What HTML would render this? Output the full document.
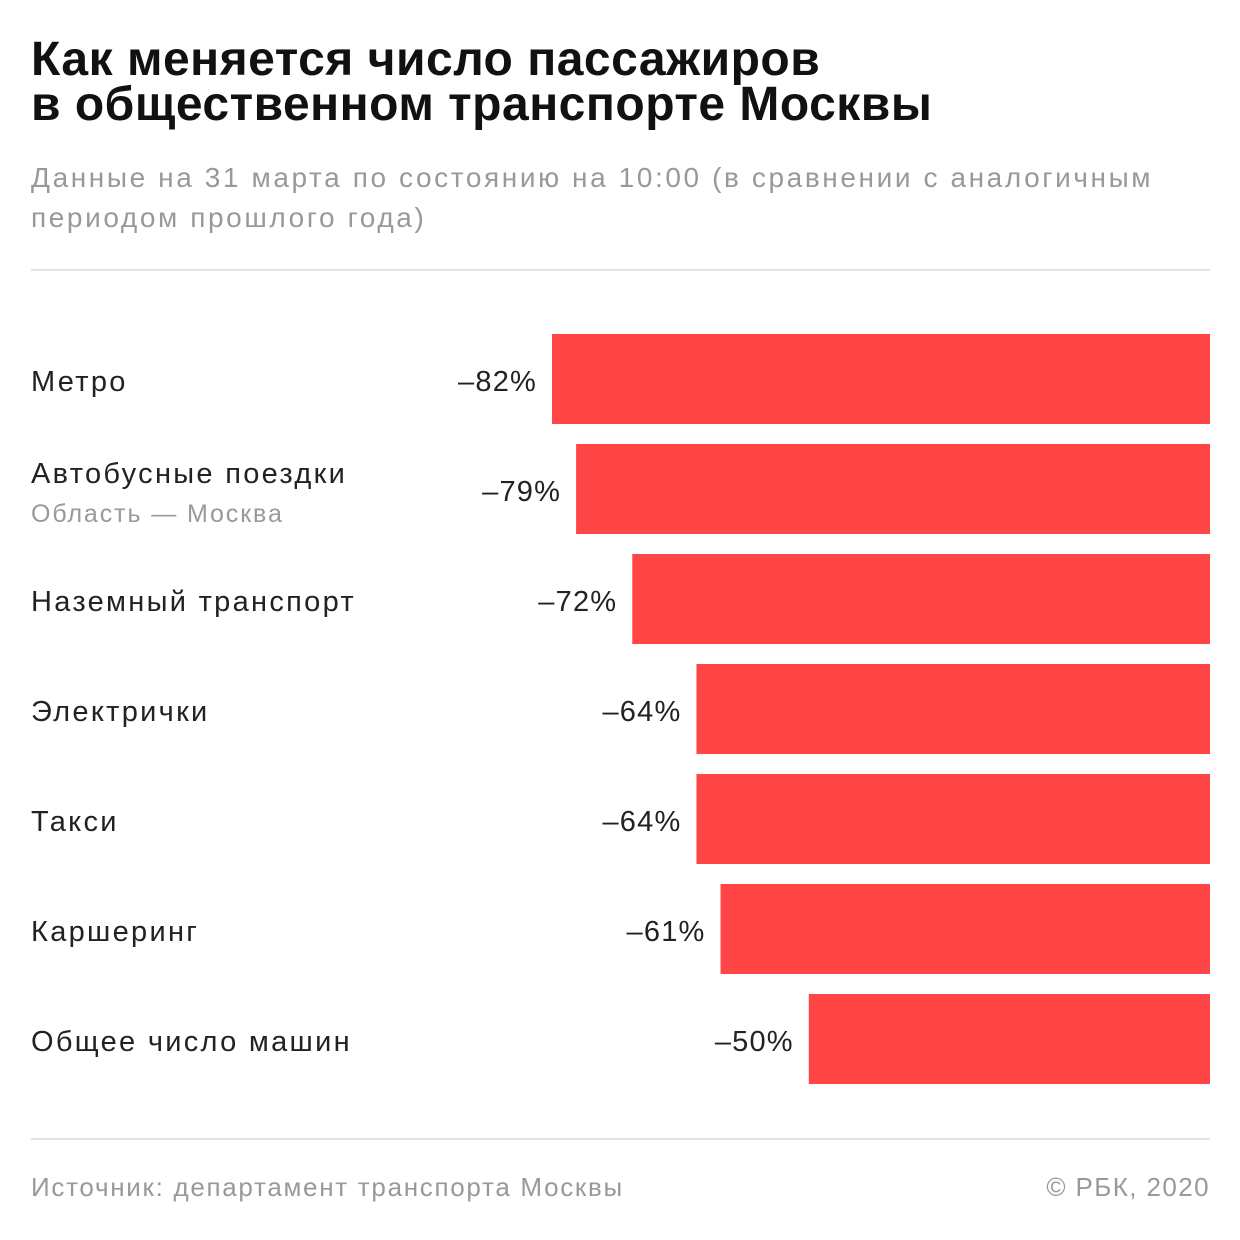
<!DOCTYPE html>
<html><head><meta charset="utf-8">
<style>
body{margin:0;background:#fff;width:1240px;height:1240px;overflow:hidden;font-family:"Liberation Sans","Noto Sans CJK SC",sans-serif;position:relative}
.t{position:absolute;left:31px;font-weight:bold;font-size:48px;color:#111;line-height:45px;top:37px;letter-spacing:0.5px}
.s{position:absolute;left:31px;top:158px;font-size:28px;line-height:40px;color:#999;letter-spacing:2.6px}
.hr{position:absolute;left:31px;width:1179px;height:2px;background:#e3e3e3}
.f{position:absolute;top:1172px;font-size:26px;color:#999;letter-spacing:1.7px}
</style></head><body>
<div class="t">Как меняется число пассажиров<br>в общественном транспорте Москвы</div>
<div class="s">Данные на 31 марта по состоянию на 10:00 (в сравнении с аналогичным<br>периодом прошлого года)</div>
<div class="hr" style="top:269px"></div>
<svg id="ch" width="1240" height="1240" style="position:absolute;left:0;top:0"></svg>
<div class="hr" style="top:1138px"></div>
<div class="f" style="left:31px">Источник: департамент транспорта Москвы</div>
<div class="f" style="right:30px;letter-spacing:1.4px">© РБК, 2020</div>
<script>
const categories=["Метро","Автобусные поездки","Наземный транспорт","Электрички","Такси","Каршеринг","Общее число машин"];
const subLabels=["","Область — Москва","","","","",""];
const values=[-82,-79,-72,-64,-64,-61,-50];
const ns="http://www.w3.org/2000/svg";
const svg=document.getElementById('ch');
const right=1210, scale=8.024, top0=334, step=110, bh=90;
const x=v=>right-Math.abs(v)*scale;
const y=i=>top0+i*step;
categories.forEach((c,i)=>{
  const r=document.createElementNS(ns,'rect');
  r.setAttribute('x',x(values[i]));r.setAttribute('y',y(i));
  r.setAttribute('width',right-x(values[i]));r.setAttribute('height',bh);
  r.setAttribute('fill','#ff4545');
  
  
  svg.appendChild(r);
  const v=document.createElementNS(ns,'text');
  v.setAttribute('x',x(values[i])-15);v.setAttribute('y',y(i)+57);
  v.setAttribute('text-anchor','end');v.setAttribute('font-size','29');v.setAttribute('fill','#222');
  v.setAttribute('letter-spacing','1.2');
  v.textContent='–'+Math.abs(values[i])+'%';
  
  
  svg.appendChild(v);
  const l=document.createElementNS(ns,'text');
  l.setAttribute('x',31);l.setAttribute('y',subLabels[i]?y(i)+39:y(i)+57);
  l.setAttribute('font-size','29');l.setAttribute('fill','#222');
  l.setAttribute('letter-spacing','2.3');
  l.textContent=c;
  
  
  svg.appendChild(l);
  if(subLabels[i]){
    const s=document.createElementNS(ns,'text');
    s.setAttribute('x',31);s.setAttribute('y',y(i)+78);
    s.setAttribute('font-size','25');s.setAttribute('fill','#999');
    s.setAttribute('letter-spacing','1.9');
    s.textContent=subLabels[i];
    
    
    svg.appendChild(s);
  }
});
</script>
</body></html>
